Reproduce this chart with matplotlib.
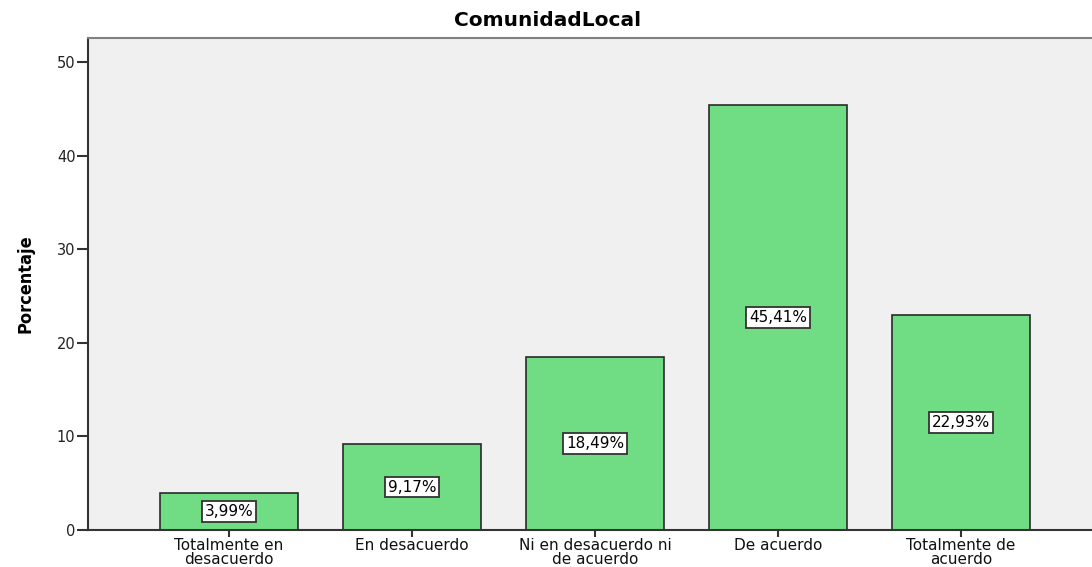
import matplotlib
matplotlib.use("Agg")
import matplotlib.pyplot as plt
from matplotlib import font_manager
from matplotlib.font_manager import FontProperties

categories = ["Totalmente en\ndesacuerdo", "En desacuerdo", "Ni en desacuerdo ni\nde acuerdo",
              "De acuerdo", "Totalmente de\nacuerdo"]
values = [3.99, 9.17, 18.49, 45.41, 22.93]
labels = ["3,99%", "9,17%", "18,49%", "45,41%", "22,93%"]
yticks = [0, 10, 20, 30, 40, 50]

plt.rcParams['font.family'] = ['DejaVu Sans']

# look for an installed condensed bold face for the y-axis label
cond = None
for f in font_manager.fontManager.ttflist:
    st = str(f.stretch).lower()
    if ("condensed" in st or "narrow" in f.name.lower() or "condensed" in f.name.lower()) \
            and (f.weight in ("bold", 700) or str(f.weight) == "700"):
        cond = f.fname
        break
if cond:
    ylab_fp = FontProperties(fname=cond, size=13)
else:
    ylab_fp = FontProperties(family="Liberation Sans", weight="bold", size=12)

W, H = 1092, 567
fig = plt.figure(figsize=(W / 100, H / 100), dpi=100)
ax = fig.add_axes([88 / W, (H - 530) / H, (W - 88) / W, (530 - 38) / H])
ax.set_facecolor("#F0F0F0")

x = list(range(len(categories)))
ax.bar(x, values, width=0.755, color="#70DC84", edgecolor="#2a2a2a", linewidth=1.2, zorder=2)
for xi, v, lab in zip(x, values, labels):
    ax.text(xi, v / 2, lab, ha="center", va="center", fontsize=11, color="black", zorder=3,
            bbox=dict(boxstyle="square,pad=0.18", facecolor="white", edgecolor="#333333", linewidth=1.3))

ax.set_xlim(-0.77, 4.715)
ax.set_ylim(0, 52.56)
ax.set_yticks(yticks)
ax.set_yticklabels([str(t) for t in yticks], fontsize=10.5, color="#222222")
ax.set_xticks(x)
ax.set_xticklabels(categories, fontsize=11, linespacing=0.85, color="#111111")
ax.tick_params(axis="y", length=8, width=1.5, color="#333333", pad=1)
ax.tick_params(axis="x", length=5, width=1.5, color="#333333", pad=1)

for s in ["left", "bottom"]:
    ax.spines[s].set_color("#333333")
    ax.spines[s].set_linewidth(1.5)
ax.spines["top"].set_color("#808080")
ax.spines["top"].set_linewidth(1.5)
ax.spines["right"].set_visible(False)

fig.text(25 / W, 1 - 284 / H, "Porcentaje", rotation=90, ha="center", va="center",
         fontproperties=ylab_fp)
fig.text(548 / W, 1 - 20 / H, "ComunidadLocal", ha="center", va="center", fontsize=14.5, fontweight="bold")

fig.savefig("out.png", dpi=100)
